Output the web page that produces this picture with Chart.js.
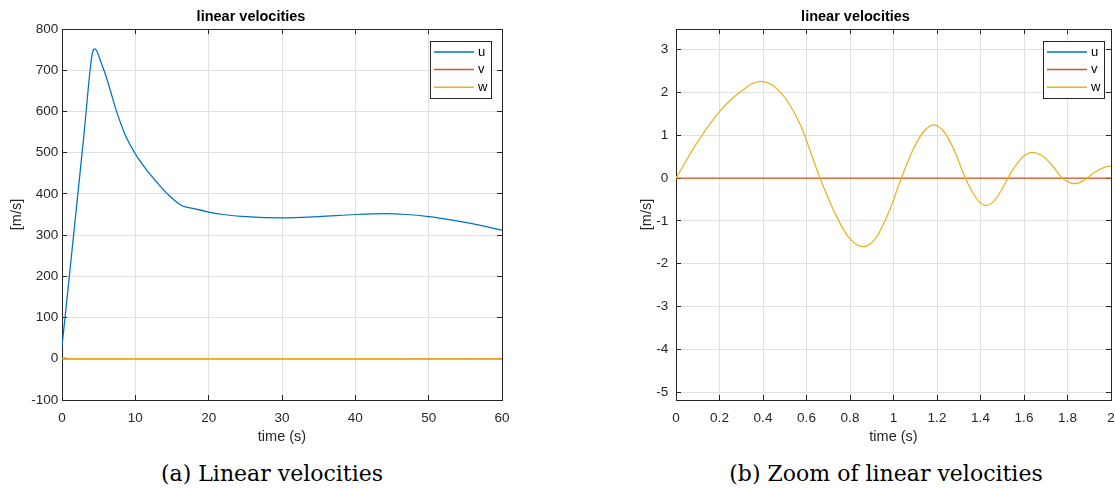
<!DOCTYPE html>
<html>
<head>
<meta charset="utf-8">
<script src="https://cdn.jsdelivr.net/npm/chart.js@4.4.1/dist/chart.umd.min.js"></script>
<style>
  html, body { margin: 0; padding: 0; background: #fff; }
  body { width: 1115px; height: 488px; position: relative; overflow: hidden; }
  canvas { position: absolute; top: 0; }
  #chartA { left: 0; }
  #chartB { left: 600px; }
  .caption {
    position: absolute; top: 461px; width: 420px; text-align: center;
    font-family: 'DejaVu Serif', serif; font-size: 22px; line-height: 26px; color: #000;
  }
</style>
</head>
<body>
<canvas id="chartA" width="560" height="450"></canvas>
<canvas id="chartB" width="540" height="450"></canvas>
<div class="caption" style="left:62px">(a) Linear velocities</div>
<div class="caption" style="left:676px">(b) Zoom of linear velocities</div>
<script>
// u: surge velocity (m/s)
const uTime = [0, 0.5, 1, 2, 3, 3.8, 4.1, 4.3, 4.5, 4.8, 5.14, 6.05, 7.41, 8.55, 10, 11.5, 13, 14.5, 16.3,
  18, 20, 22, 25, 30, 35, 40, 44, 47, 50, 52, 55, 58, 60];
const uVel = [30, 115, 200, 372, 545, 695, 738, 750, 752, 745, 728, 683, 602, 546, 497, 459, 427, 398, 372,
  364, 356, 350, 345, 342, 345, 350, 352, 350, 345, 340, 331, 320, 312];

// v: sway velocity, stays at zero
const vTime = [0, 60];
const vVel = [0, 0];

// w: heave velocity, damped oscillation
const wTime = [0, 0.1, 0.2, 0.28, 0.39, 0.481, 0.571, 0.662, 0.729, 0.795, 0.862, 0.92, 0.978, 1.036,
  1.086, 1.136, 1.186, 1.234, 1.282, 1.33, 1.362, 1.393, 1.425, 1.459, 1.492, 1.526, 1.563, 1.601, 1.638,
  1.684, 1.729, 1.775, 1.794, 1.814, 1.833, 1.852, 1.871, 1.89, 1.927, 1.963, 2.0, 60];
const wVel = [0, 0.85, 1.55, 1.95, 2.26, 2.0, 1.25, 0, -0.80, -1.39, -1.60, -1.39, -0.80, 0,
  0.62, 1.07, 1.24, 1.07, 0.62, 0, -0.32, -0.55, -0.64, -0.55, -0.32, 0, 0.30, 0.52, 0.60,
  0.52, 0.30, 0, -0.065, -0.11, -0.13, -0.11, -0.065, 0, 0.14, 0.24, 0.28, 0];

const pairs = (xs, ys) => xs.map((x, i) => ({ x: x, y: ys[i] }));

Chart.defaults.font.family = '"Liberation Sans", Arial, sans-serif';
Chart.defaults.color = '#262626';

const boxLegend = {
  id: 'boxLegend',
  afterDatasetsDraw(chart, args, opts) {
    const { ctx, chartArea } = chart;
    const x = Math.round(chartArea.right - opts.right - opts.width);
    const y = Math.round(chartArea.top + opts.top);
    ctx.save();
    ctx.fillStyle = '#fff';
    ctx.fillRect(x, y, opts.width, opts.height);
    ctx.strokeStyle = '#262626';
    ctx.lineWidth = 1;
    ctx.strokeRect(x + 0.5, y + 0.5, opts.width, opts.height);
    ctx.font = '13px "Liberation Sans", Arial, sans-serif';
    ctx.textBaseline = 'middle';
    chart.data.datasets.forEach((ds, i) => {
      const ry = y + 11 + i * 17.6;
      ctx.strokeStyle = ds.borderColor;
      ctx.lineWidth = 1.5;
      ctx.beginPath();
      ctx.moveTo(x + 4, ry);
      ctx.lineTo(x + 44, ry);
      ctx.stroke();
      ctx.fillStyle = '#000';
      ctx.fillText(ds.label, x + 48, ry);
    });
    ctx.restore();
  }
};

function makeChart(id, cfg) {
  const grid = { color: '#e0e0e0', tickColor: '#262626', tickLength: -5, lineWidth: 1 };
  const border = { color: '#262626', width: 1 };
  const tickFont = { size: 13.5 };
  const fmt = (v) => String(Math.round(v * 10) / 10);
  return new Chart(document.getElementById(id), {
    type: 'line',
    data: {
      datasets: [
        { label: 'u', data: pairs(uTime, uVel), borderColor: '#0072BD', order: 3 },
        { label: 'v', data: pairs(vTime, vVel), borderColor: '#D95319', order: 2 },
        { label: 'w', data: pairs(wTime, wVel), borderColor: '#EDB120', order: 1 },
      ],
    },
    plugins: [boxLegend],
    options: {
      responsive: false,
      animation: false,
      layout: { padding: { left: 0, right: cfg.padRight, top: 0, bottom: 0 } },
      elements: {
        point: { radius: 0 },
        line: { borderWidth: 1.25, fill: false, cubicInterpolationMode: 'monotone' },
      },
      scales: {
        x: {
          type: 'linear', position: 'bottom', min: cfg.xMin, max: cfg.xMax,
          ticks: { stepSize: cfg.xStep, includeBounds: false, font: tickFont, padding: 15.5, callback: fmt, maxRotation: 0 },
          grid: grid, border: border,
          title: { display: true, text: 'time (s)', font: { size: 14.5 }, padding: { top: 0, bottom: 4.2 } },
          afterFit: (s) => { s.height = 50; },
        },
        y: {
          type: 'linear', position: 'left', min: cfg.yMin, max: cfg.yMax,
          ticks: { stepSize: cfg.yStep, includeBounds: false, font: tickFont, padding: cfg.yTickPad, callback: fmt },
          grid: grid, border: border,
          title: { display: true, text: '[m/s]', font: { size: 14.5 }, padding: { top: cfg.yTitlePad, bottom: 0 } },
          afterFit: (s) => { s.width = cfg.yWidth; },
        },
        x2: {
          type: 'linear', position: 'top', min: cfg.xMin, max: cfg.xMax,
          ticks: { stepSize: cfg.xStep, includeBounds: false, display: false },
          grid: { drawOnChartArea: false, tickColor: '#262626', tickLength: -5 }, border: border,
          afterFit: (s) => { s.height = 0; },
        },
        y2: {
          type: 'linear', position: 'right', min: cfg.yMin, max: cfg.yMax,
          ticks: { stepSize: cfg.yStep, includeBounds: false, display: false },
          grid: { drawOnChartArea: false, tickColor: '#262626', tickLength: -5 }, border: border,
          afterFit: (s) => { s.width = 0; },
        },
      },
      plugins: {
        legend: { display: false },
        tooltip: { enabled: false },
        title: {
          display: true, text: 'linear velocities', color: '#000',
          font: { size: 14.5, weight: 'bold' }, padding: { top: 8, bottom: 3.6 },
        },
        boxLegend: cfg.legend,
      },
    },
  });
}

makeChart('chartA', {
  xMin: 0, xMax: 60, xStep: 10, yMin: -100, yMax: 800, yStep: 100,
  yWidth: 62, yTickPad: 8.7, yTitlePad: 8, padRight: 58,
  legend: { right: 11, top: 12, width: 61, height: 57 },
});

makeChart('chartB', {
  xMin: 0, xMax: 2, xStep: 0.2, yMin: -5.18, yMax: 3.48, yStep: 1,
  yWidth: 76, yTickPad: 12.7, yTitlePad: 38, padRight: 29,
  legend: { right: 7, top: 12, width: 61, height: 57 },
});
</script>
</body>
</html>
